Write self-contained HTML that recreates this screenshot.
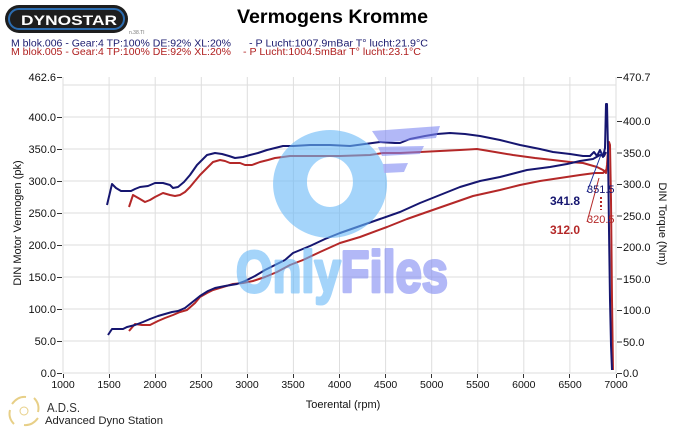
<!DOCTYPE html>
<html><head><meta charset="utf-8"><style>
html,body{margin:0;padding:0;background:#fff;}
svg{display:block;}
text{font-family:"Liberation Sans",Arial,sans-serif;}
</style></head><body>
<svg width="685" height="428" viewBox="0 0 685 428" xmlns="http://www.w3.org/2000/svg">
<rect width="685" height="428" fill="#fff"/>
<!-- Dynostar logo -->
<rect x="5" y="5" width="123" height="28" rx="14" fill="#1e1e1e"/>
<rect x="9" y="9" width="115" height="20" rx="10" fill="none" stroke="#2b6cb0" stroke-width="2"/>
<text x="21" y="25" font-size="14" font-weight="bold" fill="#fff" textLength="96" lengthAdjust="spacingAndGlyphs">DYNOSTAR</text>
<text x="129" y="34" font-size="5" fill="#777">n.38.TI</text>
<!-- Title -->
<text x="237" y="23" font-size="19.5" font-weight="bold" fill="#000" textLength="191" lengthAdjust="spacingAndGlyphs">Vermogens Kromme</text>
<text x="11" y="46.5" font-size="10" fill="#1a1a6e" textLength="220" lengthAdjust="spacingAndGlyphs">M blok.006 - Gear:4 TP:100% DE:92% XL:20%</text>
<text x="249" y="46.5" font-size="10" fill="#1a1a6e" textLength="179" lengthAdjust="spacingAndGlyphs">- P Lucht:1007.9mBar T° lucht:21.9°C</text>
<text x="11" y="55" font-size="10" fill="#b02020" textLength="220" lengthAdjust="spacingAndGlyphs">M blok.005 - Gear:4 TP:100% DE:92% XL:20%</text>
<text x="243" y="55" font-size="10" fill="#b02020" textLength="178" lengthAdjust="spacingAndGlyphs">- P Lucht:1004.5mBar T° lucht:23.1°C</text>

<!-- grid -->
<g stroke="#dedede" stroke-width="1">
<line x1="63" y1="77" x2="63" y2="373"/><line x1="109.1" y1="77" x2="109.1" y2="373"/><line x1="155.2" y1="77" x2="155.2" y2="373"/><line x1="201.3" y1="77" x2="201.3" y2="373"/><line x1="247.3" y1="77" x2="247.3" y2="373"/><line x1="293.4" y1="77" x2="293.4" y2="373"/><line x1="339.5" y1="77" x2="339.5" y2="373"/><line x1="385.6" y1="77" x2="385.6" y2="373"/><line x1="431.7" y1="77" x2="431.7" y2="373"/><line x1="477.8" y1="77" x2="477.8" y2="373"/><line x1="523.8" y1="77" x2="523.8" y2="373"/><line x1="569.9" y1="77" x2="569.9" y2="373"/><line x1="616" y1="77" x2="616" y2="373"/>
<line x1="63" y1="373" x2="616" y2="373"/><line x1="63" y1="341" x2="616" y2="341"/><line x1="63" y1="309" x2="616" y2="309"/><line x1="63" y1="277" x2="616" y2="277"/><line x1="63" y1="245" x2="616" y2="245"/><line x1="63" y1="213" x2="616" y2="213"/><line x1="63" y1="181" x2="616" y2="181"/><line x1="63" y1="149" x2="616" y2="149"/><line x1="63" y1="117" x2="616" y2="117"/><line x1="63" y1="85" x2="616" y2="85"/>
</g>
<!-- ticks -->
<g stroke="#333" stroke-width="1">
<line x1="57" y1="77.5" x2="62" y2="77.5"/><line x1="57" y1="117.5" x2="62" y2="117.5"/><line x1="57" y1="149.5" x2="62" y2="149.5"/><line x1="57" y1="181.5" x2="62" y2="181.5"/><line x1="57" y1="213.5" x2="62" y2="213.5"/><line x1="57" y1="245.5" x2="62" y2="245.5"/><line x1="57" y1="277.5" x2="62" y2="277.5"/><line x1="57" y1="309.5" x2="62" y2="309.5"/><line x1="57" y1="341.5" x2="62" y2="341.5"/><line x1="57" y1="373.5" x2="62" y2="373.5"/>
<line x1="617" y1="77.5" x2="622" y2="77.5"/><line x1="617" y1="121.5" x2="622" y2="121.5"/><line x1="617" y1="153" x2="622" y2="153"/><line x1="617" y1="184.5" x2="622" y2="184.5"/><line x1="617" y1="216" x2="622" y2="216"/><line x1="617" y1="247.5" x2="622" y2="247.5"/><line x1="617" y1="279" x2="622" y2="279"/><line x1="617" y1="310.5" x2="622" y2="310.5"/><line x1="617" y1="342" x2="622" y2="342"/><line x1="617" y1="373.5" x2="622" y2="373.5"/>
<line x1="63.5" y1="374" x2="63.5" y2="378"/><line x1="109.5" y1="374" x2="109.5" y2="378"/><line x1="155.5" y1="374" x2="155.5" y2="378"/><line x1="201.5" y1="374" x2="201.5" y2="378"/><line x1="247.5" y1="374" x2="247.5" y2="378"/><line x1="293.5" y1="374" x2="293.5" y2="378"/><line x1="339.5" y1="374" x2="339.5" y2="378"/><line x1="385.5" y1="374" x2="385.5" y2="378"/><line x1="431.5" y1="374" x2="431.5" y2="378"/><line x1="477.5" y1="374" x2="477.5" y2="378"/><line x1="523.5" y1="374" x2="523.5" y2="378"/><line x1="569.5" y1="374" x2="569.5" y2="378"/><line x1="616.5" y1="374" x2="616.5" y2="378"/>
</g>
<g font-size="11" fill="#111" text-anchor="end">
<text x="56" y="81">462.6</text><text x="56" y="121">400.0</text><text x="56" y="153">350.0</text><text x="56" y="185">300.0</text><text x="56" y="217">250.0</text><text x="56" y="249">200.0</text><text x="56" y="281">150.0</text><text x="56" y="313">100.0</text><text x="56" y="345">50.0</text><text x="56" y="377">0.0</text>
</g>
<g font-size="11" fill="#111">
<text x="623" y="81">470.7</text><text x="623" y="125">400.0</text><text x="623" y="157">350.0</text><text x="623" y="188">300.0</text><text x="623" y="220">250.0</text><text x="623" y="251">200.0</text><text x="623" y="283">150.0</text><text x="623" y="314">100.0</text><text x="623" y="346">50.0</text><text x="623" y="377">0.0</text>
</g>
<g font-size="10.5" fill="#111" text-anchor="middle">
<text x="63" y="388">1000</text><text x="109" y="388">1500</text><text x="155" y="388">2000</text><text x="201" y="388">2500</text><text x="247" y="388">3000</text><text x="293" y="388">3500</text><text x="339.5" y="388">4000</text><text x="385.6" y="388">4500</text><text x="431.7" y="388">5000</text><text x="477.8" y="388">5500</text><text x="523.8" y="388">6000</text><text x="570" y="388">6500</text><text x="616" y="388">7000</text>
</g>
<text x="343" y="408" font-size="11" fill="#111" text-anchor="middle">Toerental (rpm)</text>
<text transform="translate(21,223) rotate(-90)" font-size="11" fill="#111" text-anchor="middle">DIN Motor Vermogen (pk)</text>
<text transform="translate(659,224) rotate(90)" font-size="11" fill="#111" text-anchor="middle">DIN Torque (Nm)</text>

<!-- curves -->
<g fill="none" stroke-width="2" stroke-linejoin="round">
<polyline stroke="#b42828" points="129,207 133,195 140,199 145,202 150,200 155,197 163,193 170,195 175,196 180,195 185,192 190,187 195,181 200,175 205,170 213,162 220,160 225,161 230,163 240,163 245,165 252,165 260,162 268,160 275,158 283,157 290,156 320,156 340,156 370,155 383,153 400,153 420,152 440,151 460,150 477,149 495,152 513,155 535,158 553,160 570,162 583,163 597,167 603,170 606,173 607,165 608,150 609,142 610,145 611,200 612,300 613,370"/>
<polyline stroke="#b42828" points="129,331 135,324 142,325 150,325 158,321 165,318 173,315 180,312 187,310 195,303 200,297 207,293 213,290 223,287 233,284 243,283 253,281 265,277 277,272 290,265 303,260 320,252 340,243 360,237 387,227 407,219 427,212 450,204 473,196 500,190 520,185 540,181 560,178 580,175 595,173 603,173 606,170"/>
<polyline stroke="#161670" points="107,205 112,184 116,188 121,191 131,191 135,189 140,187 148,186 155,183 163,183 170,185 173,188 178,187 184,182 190,175 197,165 203,159 207,155 215,153 222,154 229,156 235,158 243,157 250,155 258,153 267,150 275,148 283,146 293,146 310,145 330,145 350,146 365,144 380,142 395,143 400,143 410,139 425,136 437,134 450,133 465,134 480,136 500,140 520,145 540,149 553,152 570,154 583,156 590,156 594,152 597,156 600,150 603,157 605,148 606,104 607,104 608,150 609,230 610,300 611,345 612,370"/>
<polyline stroke="#161670" points="108,335 112,329 123,329 127,327 135,325 143,322 150,319 158,316 165,314 172,312 178,311 185,308 190,304 200,296 208,291 215,288 225,286 237,284 245,281 255,276 265,270 275,265 285,260 293,253 310,246 325,239 340,233 360,226 380,219 400,212 420,203 440,195 460,187 480,181 500,177 527,170 550,167 567,164 580,161 593,159 600,155 604,156 606,152"/>
</g>
<!-- pointers & labels -->
<line x1="587" y1="192" x2="602" y2="152" stroke="#1a2a9a" stroke-width="1"/>
<line x1="587" y1="222" x2="599" y2="178" stroke="#b42828" stroke-width="1"/>
<line x1="601" y1="197" x2="601" y2="210" stroke="#b42828" stroke-width="2" stroke-dasharray="2,2"/>
<text x="550" y="205" font-size="12" font-weight="bold" fill="#161670">341.8</text>
<text x="550" y="234" font-size="12" font-weight="bold" fill="#b42828">312.0</text>
<text x="587" y="193" font-size="11" fill="#161670">351.5</text>
<text x="587" y="223" font-size="11" fill="#b42828">320.5</text>

<!-- watermark -->
<g opacity="0.6">
<path d="M330,130 a57,54 0 1,0 0.1,0 z M330,157 a23,25 0 1,1 -0.1,0 z" fill="#69b9f8" fill-rule="evenodd"/>
<polygon points="372,131 440,126 436,138 380,143" fill="#808af2"/>
<polygon points="378,147 424,146 420,154 382,156" fill="#808af2"/>
<polygon points="383,164 408,163 404,172 384,173" fill="#808af2"/>
<text x="236" y="292" font-size="58" font-weight="bold" stroke-width="3" stroke-linejoin="round" textLength="212" lengthAdjust="spacingAndGlyphs"><tspan fill="#69b9f8" stroke="#69b9f8">Only</tspan><tspan fill="#808af2" stroke="#808af2">Files</tspan></text>
</g>

<!-- ADS logo -->
<g fill="none" stroke="#e2c46a" stroke-width="2" opacity="0.8">
<path d="M12,404 q6,-8 14,-7"/><path d="M34,398 q6,6 4,14"/><path d="M38,418 q-6,8 -14,7"/><path d="M14,424 q-6,-6 -4,-14"/>
<circle cx="24" cy="411" r="4" stroke-width="1"/>
</g>
<text x="47" y="412" font-size="13" fill="#333" textLength="33" lengthAdjust="spacingAndGlyphs">A.D.S.</text>
<text x="45" y="424" font-size="11" fill="#222" textLength="118" lengthAdjust="spacingAndGlyphs">Advanced Dyno Station</text>
</svg>
</body></html>
